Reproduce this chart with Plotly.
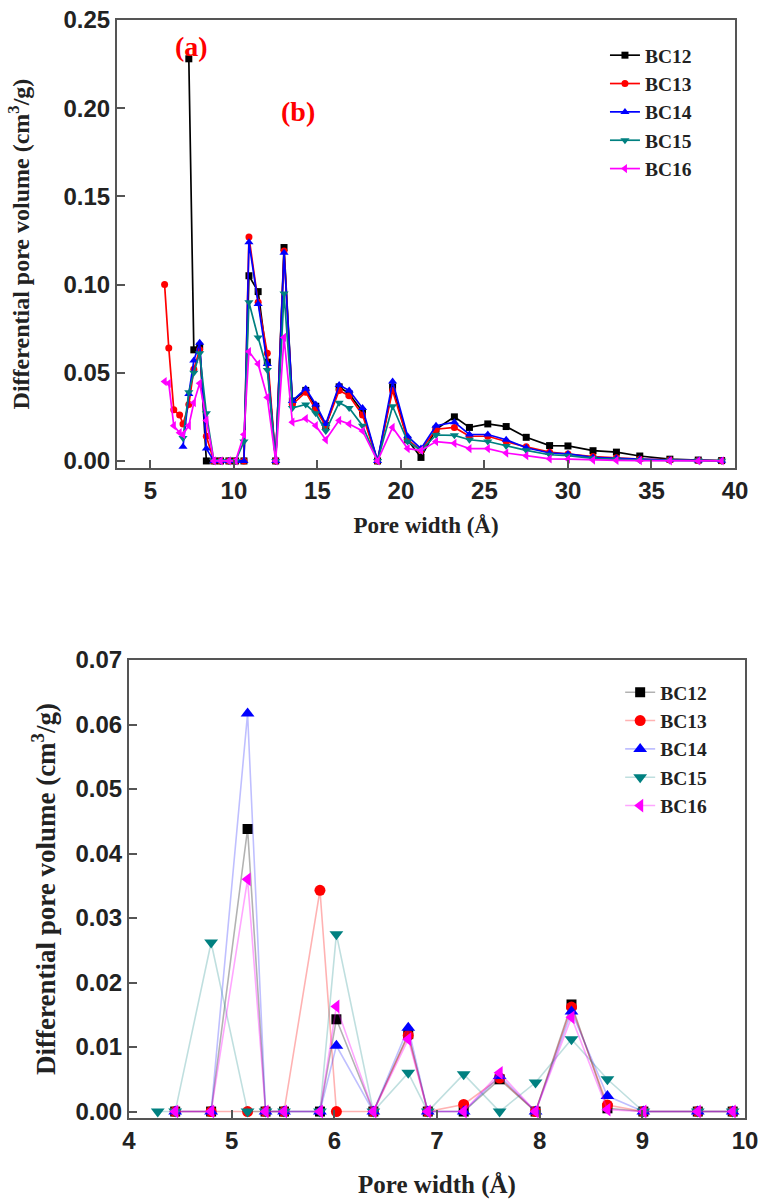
import plotly.graph_objects as go

# ---- panel (a): full pore size distribution, 5-40 Å ----
pore_width_a = [5.85, 6.1, 6.4, 6.75, 6.95, 7.3, 7.6, 7.95, 8.35, 8.8, 9.2, 9.7, 10.1, 10.6,
                10.9, 11.45, 12.0, 12.5, 13.0, 13.5, 14.3, 14.9, 15.5, 16.3, 16.9, 17.7,
                18.6, 19.5, 20.4, 21.2, 22.1, 23.2, 24.1, 25.2, 26.3, 27.5, 28.9, 30.0,
                31.5, 32.9, 34.3, 36.1, 37.8, 39.2]

bc12_a = [None, None, None, None, None, 0.228, 0.063, 0.065, 0.0, 0, 0, 0, 0, 0,
          0.105, 0.096, 0.056, 0, 0.121, 0.034, 0.040, 0.031, 0.020, 0.042, 0.038, 0.028,
          0, 0.042, 0.012, 0.002, 0.018, 0.025, 0.019, 0.021, 0.0195, 0.0134, 0.0087, 0.0085,
          0.0058, 0.005, 0.0028, 0.001, 0.0005, 0.0002]
bc13_a = [0.100, 0.064, 0.029, 0.026, 0.021, 0.032, 0.052, 0.063, 0.014, 0, 0, 0, 0, 0,
          0.127, 0.090, 0.061, 0, 0.119, 0.032, 0.039, 0.029, 0.020, 0.040, 0.037, 0.026,
          0, 0.040, 0.012, 0.006, 0.018, 0.019, 0.014, 0.014, 0.011, 0.008, 0.005, 0.004,
          0.0025, 0.0018, 0.001, 0.0006, 0.0003, 0.0001]
bc14_a = [None, None, None, None, 0.008, 0.038, 0.057, 0.067, 0.007, 0, 0, 0, 0, 0,
          0.124, 0.089, 0.055, 0, 0.118, 0.034, 0.041, 0.032, 0.021, 0.043, 0.040, 0.030,
          0, 0.045, 0.014, 0.007, 0.020, 0.022, 0.015, 0.015, 0.012, 0.0075, 0.0045, 0.004,
          0.002, 0.0015, 0.001, 0.0005, 0.0003, 0.0001]
bc15_a = [None, None, None, None, 0.013, 0.039, 0.050, 0.061, 0.027, 0, 0, 0, 0, 0.011,
          0.090, 0.070, 0.0515, 0, 0.095, 0.030, 0.032, 0.027, 0.017, 0.033, 0.030, 0.020,
          0, 0.031, 0.011, 0.006, 0.0147, 0.0145, 0.012, 0.011, 0.0085, 0.006, 0.0035, 0.003,
          0.0015, 0.001, 0.0005, 0.0003, 0.0002, 0.0001]
bc16_a = [0.045, 0.044, 0.020, 0.016, 0.015, 0.020, 0.033, 0.044, 0.023, 0, 0, 0, 0, 0.015,
          0.062, 0.055, 0.036, 0, 0.070, 0.022, 0.024, 0.020, 0.012, 0.023, 0.021, 0.017,
          0, 0.019, 0.007, 0.006, 0.011, 0.010, 0.007, 0.007, 0.0045, 0.003, 0.0012, 0.001,
          0.0005, 0.0003, 0.0002, 0.0001, 0.0, 0.0]

# ---- panel (b): micropore region, 4-10 Å ----
pore_width_b = [4.28, 4.45, 4.80, 5.155, 5.33, 5.51, 5.86, 6.02, 6.38, 6.72, 6.91, 7.26,
                7.61, 7.96, 8.31, 8.66, 9.01, 9.54, 9.88]

bc12_b = [None, 0, 0, 0.0438, 0, 0, 0, 0.0143, 0, 0.012, 0, 0, 0.005, 0, 0.0166, 0.0005, 0, 0, 0]
bc13_b = [None, 0, 0, 0, 0, 0, 0.0343, 0, 0, 0.0118, 0, 0.0011, 0.0052, 0, 0.0162, 0.001, 0, 0, 0]
bc14_b = [None, 0, 0, 0.0617, 0, 0, 0, 0.0102, 0, 0.013, 0, 0, 0.0055, 0, 0.0155, 0.0024, 0, 0, 0]
bc15_b = [0, 0, 0.0262, 0, 0, 0, 0, 0.0275, 0, 0.006, 0, 0.0058, 0, 0.0045, 0.0112, 0.005, 0, 0, 0]
bc16_b = [None, 0, 0, 0.036, 0, 0, 0, 0.0163, 0, 0.0112, 0, 0, 0.006, 0, 0.0146, 0.0003, 0, 0, 0]

series_names = ["BC12", "BC13", "BC14", "BC15", "BC16"]
ticks_a_x = [5, 10, 15, 20, 25, 30, 35, 40]
ticks_a_y = [0.00, 0.05, 0.10, 0.15, 0.20, 0.25]
ticks_b_x = [4, 5, 6, 7, 8, 9, 10]
ticks_b_y = [0.00, 0.01, 0.02, 0.03, 0.04, 0.05, 0.06, 0.07]

colors = ["#000000", "#FF0000", "#0000FF", "#008080", "#FF00FF"]
faint = ["rgba(0,0,0,0.3)", "rgba(255,0,0,0.3)", "rgba(0,0,255,0.25)",
         "rgba(0,128,128,0.25)", "rgba(255,0,255,0.35)"]
symbols = ["square", "circle", "triangle-up", "triangle-down", "triangle-left"]
sizes_a = [7, 7, 8, 8, 8]
sizes_b = [10, 11, 12, 12, 12]

fig = go.Figure()

for name, ys, c, s, sz in zip(series_names, [bc12_a, bc13_a, bc14_a, bc15_a, bc16_a],
                              colors, symbols, sizes_a):
    fig.add_trace(go.Scatter(
        x=pore_width_a, y=ys, name=name, mode="lines+markers",
        line=dict(color=c, width=1.7),
        marker=dict(symbol=s, size=sz, color=c),
        xaxis="x", yaxis="y", legend="legend"))

for name, ys, c, f, s, sz in zip(series_names, [bc12_b, bc13_b, bc14_b, bc15_b, bc16_b],
                                 colors, faint, symbols, sizes_b):
    fig.add_trace(go.Scatter(
        x=pore_width_b, y=ys, name=name, mode="lines+markers",
        line=dict(color=f, width=1.6),
        marker=dict(symbol=s, size=sz, color=c),
        xaxis="x2", yaxis="y2", legend="legend2"))

serif = "Liberation Serif, Times New Roman, serif"
tick_font = dict(family="Liberation Sans, Arial", size=24, color="#222222", weight="bold")
xtitle_a = dict(family=serif, size=23, color="#222222", weight="bold")
ytitle_a = dict(family=serif, size=24, color="#222222", weight="bold")
xtitle_b = dict(family=serif, size=25, color="#222222", weight="bold")
ytitle_b = dict(family=serif, size=27, color="#222222", weight="bold")
legend_font = dict(family=serif, size=19.5, color="#222222", weight="bold")

axis_common = dict(showline=True, mirror=True, linecolor="#555555", linewidth=2,
                   ticks="inside", ticklen=8, tickwidth=2, tickcolor="#555555",
                   showgrid=False, zeroline=False, tickfont=tick_font, automargin=False)

fig.update_layout(
    template="none",
    width=760, height=1201,
    margin=dict(l=0, r=0, t=0, b=0, pad=0),
    paper_bgcolor="white", plot_bgcolor="white",
    xaxis=dict(domain=[117 / 760, 735 / 760], range=[3, 40], anchor="y",
               tickvals=ticks_a_x, ticktext=[str(v) for v in ticks_a_x],
               title=dict(text="Pore width (Å)", font=xtitle_a, standoff=14),
               **axis_common),
    yaxis=dict(domain=[1 - 468 / 1201, 1 - 20 / 1201], range=[-0.004, 0.25], anchor="x",
               tickvals=ticks_a_y, ticktext=[f"{v:.2f}" for v in ticks_a_y],
               title=dict(text="Differential pore volume (cm<sup>3</sup>/g)",
                          font=ytitle_a, standoff=27),
               **axis_common),
    xaxis2=dict(domain=[129 / 760, 745 / 760], range=[4, 10], anchor="y2",
                tickvals=ticks_b_x, ticktext=[str(v) for v in ticks_b_x],
                title=dict(text="Pore width (Å)", font=xtitle_b, standoff=23),
                **axis_common),
    yaxis2=dict(domain=[1 - 1118 / 1201, 1 - 660 / 1201], range=[-0.001, 0.07], anchor="x2",
                tickvals=ticks_b_y, ticktext=[f"{v:.2f}" for v in ticks_b_y],
                title=dict(text="Differential pore volume (cm<sup>3</sup>/g)",
                           font=ytitle_b, standoff=12),
                **axis_common),
    legend=dict(x=0.796, y=1 - 36 / 1201, xanchor="left", yanchor="top",
                font=legend_font, bgcolor="rgba(0,0,0,0)", borderwidth=0),
    legend2=dict(x=0.816, y=1 - 673 / 1201, xanchor="left", yanchor="top",
                 font=legend_font, bgcolor="rgba(0,0,0,0)", borderwidth=0),
    annotations=[
        dict(text="(a)", x=7.45, y=0.235, xref="x", yref="y", showarrow=False,
             font=dict(family=serif, size=28, color="#FF0000", weight="bold")),
        dict(text="(b)", x=13.85, y=0.198, xref="x", yref="y", showarrow=False,
             font=dict(family=serif, size=28, color="#FF0000", weight="bold")),
    ],
)

fig.write_html("out.html")
